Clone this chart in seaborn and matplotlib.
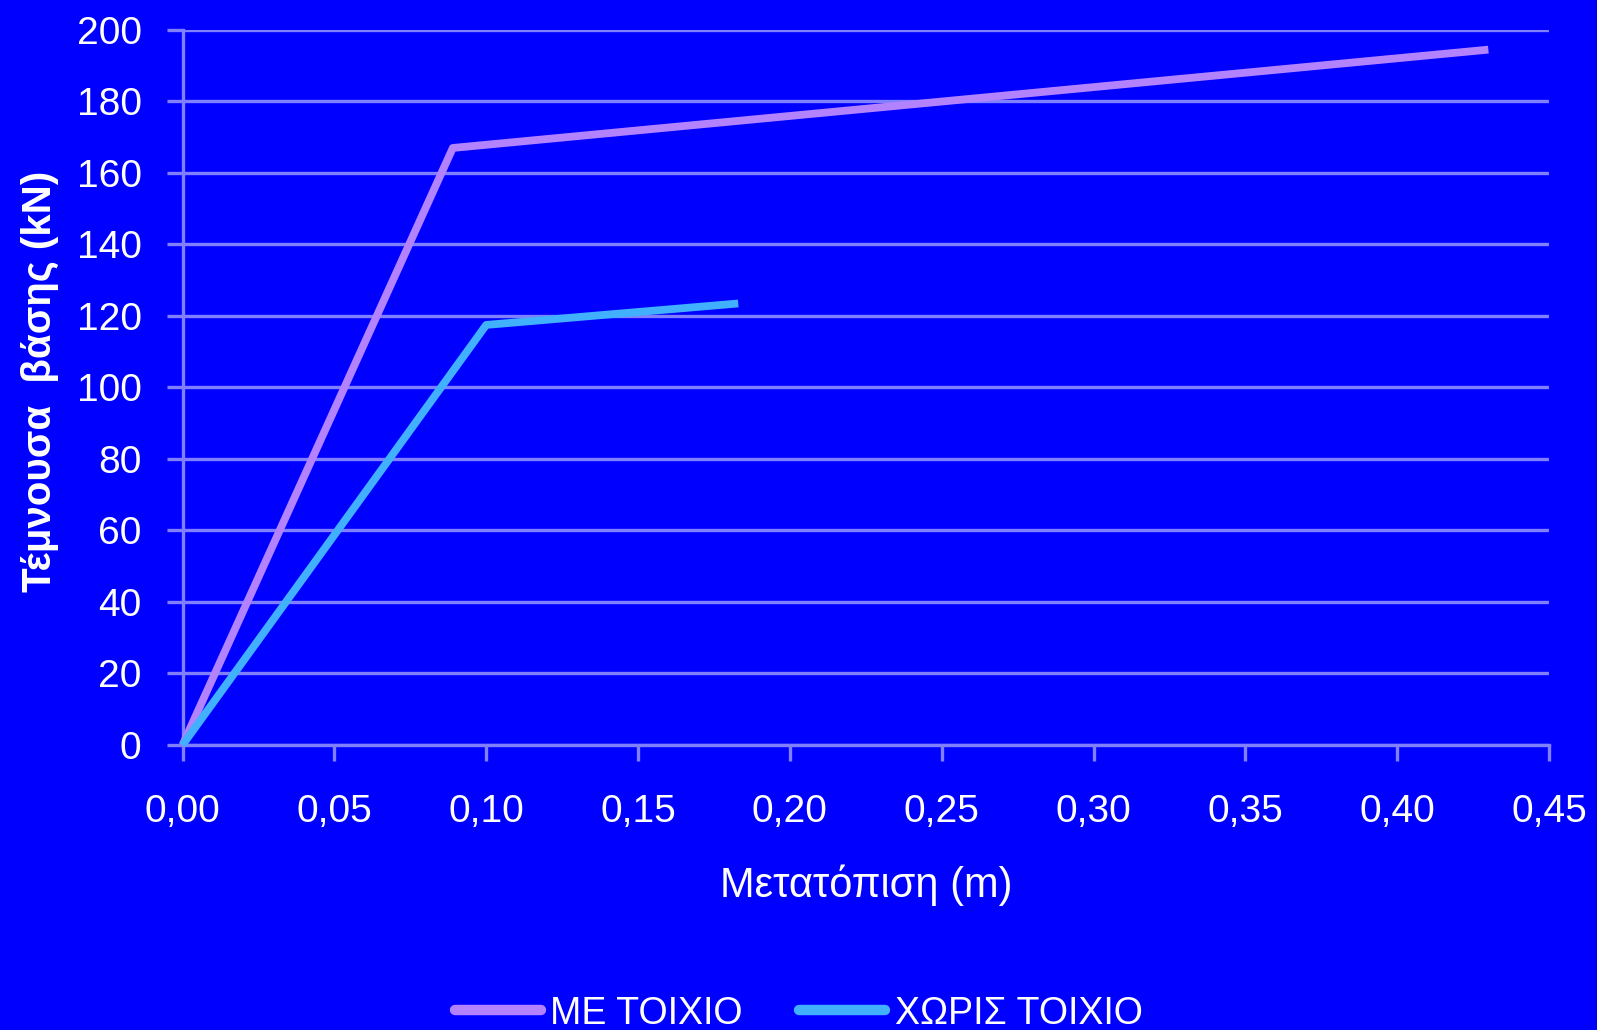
import numpy as np
import pandas as pd
import matplotlib
matplotlib.use("Agg")
import matplotlib.pyplot as plt
from matplotlib.ticker import FuncFormatter
from matplotlib.lines import Line2D
import seaborn as sns

# Pushover curves: base shear vs. displacement
series_names = ["ΜΕ ΤΟΙΧΙΟ", "ΧΩΡΙΣ ΤΟΙΧΙΟ"]
with_wall_disp = [0.0, 0.089, 0.430]
with_wall_shear = [0.0, 167.0, 194.5]
no_wall_disp = [0.0, 0.100, 0.183]
no_wall_shear = [0.0, 117.5, 123.5]

x_ticks = np.arange(0.0, 0.451, 0.05)
y_ticks = np.arange(0, 201, 20)

BG = "#0000FF"
GRID = "#8080FF"
colors = ["#B383FF", "#40B0FF"]

df = pd.DataFrame({
    "disp": with_wall_disp + no_wall_disp,
    "shear": with_wall_shear + no_wall_shear,
    "series": [series_names[0]] * len(with_wall_disp) + [series_names[1]] * len(no_wall_disp),
})

sns.set_style("white", rc={"axes.facecolor": BG, "figure.facecolor": BG})
plt.rcParams["font.family"] = ["Liberation Sans", "DejaVu Sans"]

fig = plt.figure(figsize=(15.97, 10.30), dpi=100, facecolor=BG)
ax = fig.add_axes([0.1143, 0.2767, 0.8557, 0.6942])
ax.set_facecolor(BG)

sns.lineplot(data=df, x="disp", y="shear", hue="series", hue_order=series_names,
             palette=colors, sort=False, estimator=None, linewidth=5.6,
             legend=False, ax=ax, zorder=3)
for ln in ax.lines:
    ln.set_solid_joinstyle("round")
    ln.set_solid_capstyle("butt")
    ln.set_clip_on(False)

ax.set_xlim(0, 0.45)
ax.set_ylim(0, 200)
ax.set_xticks(x_ticks)
ax.set_yticks(y_ticks)
ax.xaxis.set_major_formatter(FuncFormatter(lambda v, p: f"{v:.2f}".replace(".", ",")))
ax.yaxis.set_major_formatter(FuncFormatter(lambda v, p: f"{v:.0f}"))

ax.yaxis.grid(True, color=GRID, linewidth=2.4, zorder=1)
ax.xaxis.grid(False)
for side in ["top", "right"]:
    ax.spines[side].set_visible(False)
for side in ["left", "bottom"]:
    ax.spines[side].set_color(GRID)
    ax.spines[side].set_linewidth(2.4)

ax.tick_params(axis="both", colors=GRID, length=11.5, width=2.4, direction="out",
               labelcolor="white", labelsize=28)
ax.tick_params(axis="y", pad=18, left=True)
ax.tick_params(axis="x", pad=24, bottom=True)

ax.set_xlabel("Μετατόπιση (m)", color="white", fontsize=30)
ax.xaxis.set_label_coords(0.5, -0.196)
ax.xaxis.label.set_va("center")

ax.set_ylabel("Τέμνουσα  βάσης (kN)", color="white", fontsize=29, fontweight="bold")
ax.yaxis.set_label_coords(-0.104, 0.508)
ax.yaxis.label.set_va("center")

handles = [Line2D([0], [0], color=c, linewidth=7.5) for c in colors]
ax.legend(handles, series_names, loc="center", bbox_to_anchor=(0.5, 0.016),
          bbox_transform=fig.transFigure, ncol=2, frameon=False, fontsize=27,
          handlelength=2.3, handletextpad=0.25, columnspacing=1.5, labelcolor="white")

fig.savefig("out.png", dpi=100, facecolor=BG)
